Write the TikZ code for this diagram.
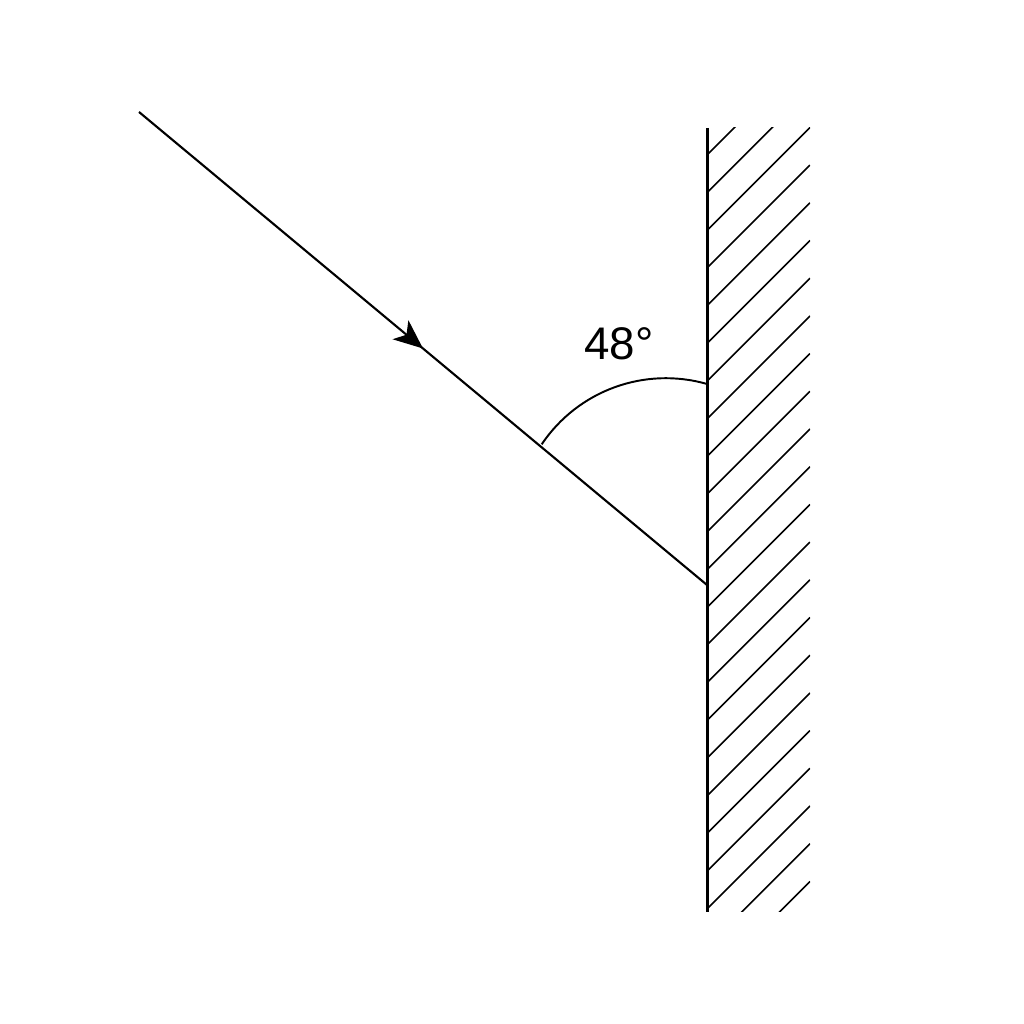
\documentclass[tikz,border=0pt]{standalone}
\usepackage{fontspec}
\setmainfont{Liberation Sans}
\usepackage{tikz}
\usetikzlibrary{calc,arrows.meta,decorations.markings}
\def\hatchsep{37.7}
\tikzstyle{ray} = [line width=0.6pt,black]

\begin{document}
\begin{tikzpicture}[x=0.01cm,y=0.01cm]
    \tikzstyle{mirror}=[line width=0.85pt,black]
    \tikzstyle{hatch}=[line width=0.45pt,black]
    \tikzstyle{angle arc}=[line width=0.55pt,black]
    \tikzstyle{annot}=[inner sep=0pt,font=\fontsize{13}{15}\selectfont]
    \tikzstyle{midarrow}=[postaction=decorate,decoration={markings,
        mark=at position 0.5 with {\arrow{Stealth[length=8.3pt,width=7pt,inset=2.2pt]}}}]

    \useasboundingbox (0,0) rectangle (1024,1024);

    % Draw the mirror and its points
    \coordinate (M-top) at (707,896);
    \coordinate (M-bot) at (707,112);
    \coordinate (P) at (707,439);
    \coordinate (S) at (139,912);
    \coordinate (A) at (707,640);

    % Draw the hatching behind the mirror
    \begin{scope}
        \clip (707,112) rectangle (810,896);
        \foreach \k in {0,...,22}
            \draw[hatch] (707,869-\hatchsep*\k) -- (810,972-\hatchsep*\k);
    \end{scope}
    \draw[mirror] (M-top) -- (M-bot);

    % Draw the incoming ray
    \draw[ray,midarrow] (S) -- (P);

    % Draw the angle
    \draw[angle arc] (A) arc[start angle=74, end angle=146.1, radius=1.494cm];
    \node[annot] (lbl) at (619,680) {48°};
\end{tikzpicture}
\end{document}
